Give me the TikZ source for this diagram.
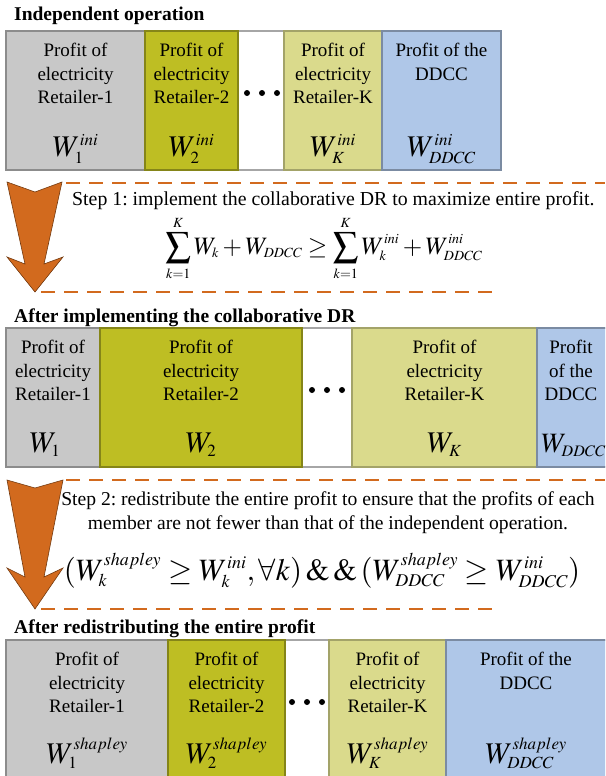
\documentclass[tikz,border=0pt]{standalone}
\usepackage{mathptmx}
\usepackage{fontspec}
\setmainfont{Liberation Serif}
\DeclareMathSizes{28}{28}{16}{11}
\DeclareMathSizes{30}{30}{17}{12}
\DeclareMathSizes{31}{31}{18}{12}
\DeclareMathSizes{25}{25}{14}{10}
\definecolor{retgray}{RGB}{200,200,200}
\definecolor{retolive}{RGB}{190,190,35}
\definecolor{retlight}{RGB}{218,218,140}
\definecolor{ddccblue}{RGB}{175,199,232}
\definecolor{steporange}{RGB}{210,106,30}
\frenchspacing

\begin{document}
\begin{tikzpicture}[x=1pt,y=-1pt,
  every node/.style={inner sep=0pt,font=\fontsize{19}{23.5}\selectfont},
  frame/.style={draw=black!35,line width=2.5pt},
  cell/.style={line width=1.8pt},
  txt/.style={align=center,anchor=north},
  steptxt/.style={font=\fontsize{19.8}{24}\selectfont},
  wlab/.style={anchor=base,font=\fontsize{30}{30}\selectfont},
  title/.style={anchor=base west,font=\fontsize{19.5}{22}\selectfont\bfseries},
  stepline/.style={draw=steporange,line width=2.8pt,dash pattern=on 14pt off 9pt},
  bigarrow/.style={fill=steporange,draw=black!45!steporange,line width=0.6pt}]
  \clip (0,0) rectangle (605,776);

  % independent operation
  \node[title] (t-ind) at (14,21) {Independent operation};
  \draw[frame] (6,31) rectangle (501,170);
  \draw[cell,fill=retgray,draw=retgray!70!black] (6,31) rectangle (145,170);
  \draw[cell,fill=retolive,draw=retolive!70!black] (145,31) rectangle (238,170);
  \draw[cell,fill=retlight,draw=retlight!75!black] (284,31) rectangle (382,170);
  \draw[cell,fill=ddccblue,draw=ddccblue!70!black] (382,31) rectangle (501,170);
  \node[txt] (ind-1) at (75.5,43) {Profit of\\electricity\\Retailer-1};
  \node[txt] (ind-2) at (191.5,43) {Profit of\\electricity\\Retailer-2};
  \node[txt] (ind-k) at (333,43) {Profit of\\electricity\\Retailer-K};
  \node[txt] (ind-d) at (441.5,43) {Profit of the\\DDCC};
  \node[wlab] (w-ind-1) at (75.5,156) {$W_{1}^{ini}$};
  \node[wlab] (w-ind-2) at (191.5,156) {$W_{2}^{ini}$};
  \node[wlab] (w-ind-k) at (333,156) {$W_{K}^{ini}$};
  \node[wlab] (w-ind-d) at (441.5,156) {$W_{DDCC}^{ini}$};
  \foreach \x in {247,262,277} \fill (\x,93) circle (3);

  % step 1
  \draw[bigarrow] (7,182) -- (35,192) -- (62,182) -- (44,264) -- (63,257)
    -- (35,292) -- (7,257) -- (25,264) -- cycle;
  \draw[stepline] (66,183) -- (605,183);
  \draw[stepline] (41,292) -- (495,292);
  \node[steptxt,anchor=base west] (step-1) at (72,205)
    {Step 1: implement the collaborative DR to maximize entire profit.};
  \node[anchor=base,font=\fontsize{25}{25}\selectfont] (eq-1) at (324,254)
    {$\displaystyle\sum_{k=1}^{K} W_{k} + W_{DDCC} \geq \sum_{k=1}^{K} W_{k}^{ini} + W_{DDCC}^{ini}$};

  % after the collaborative DR
  \node[title] (t-dr) at (14,322) {After implementing the collaborative DR};
  \draw[frame] (6,328) rectangle (607,467);
  \draw[cell,fill=retgray,draw=retgray!70!black] (6,328) rectangle (100,467);
  \draw[cell,fill=retolive,draw=retolive!70!black] (100,328) rectangle (302,467);
  \draw[cell,fill=retlight,draw=retlight!75!black] (352,328) rectangle (537,467);
  \draw[cell,fill=ddccblue,draw=ddccblue!70!black] (537,328) rectangle (607,467);
  \node[txt] (dr-1) at (53,340) {Profit of\\electricity\\Retailer-1};
  \node[txt] (dr-2) at (201,340) {Profit of\\electricity\\Retailer-2};
  \node[txt] (dr-k) at (444.5,340) {Profit of\\electricity\\Retailer-K};
  \node[txt] (dr-d) at (571,340) {Profit\\of the\\DDCC};
  \node[wlab] (w-dr-1) at (45,452) {$W_{1}$};
  \node[wlab] (w-dr-2) at (201,452) {$W_{2}$};
  \node[wlab] (w-dr-k) at (444.5,452) {$W_{K}$};
  \node[wlab,anchor=base west,font=\fontsize{28}{28}\selectfont] (w-dr-d) at (541,452) {$W_{DDCC}$};
  \foreach \x in {312,327,342} \fill (\x,390) circle (3);

  % step 2
  \draw[bigarrow] (7,480) -- (35,488) -- (63,480) -- (44,577) -- (63,568)
    -- (35,609) -- (7,568) -- (25,577) -- cycle;
  \draw[stepline] (66,480) -- (605,480);
  \draw[stepline] (41,609) -- (495,609);
  \node[txt,font=\fontsize{19.6}{24}\selectfont] (step-2) at (328,491)
    {Step 2: redistribute the entire profit to ensure that the profits of each\\
     member are not fewer than that of the independent operation.};
  \node[anchor=base,font=\fontsize{31}{31}\selectfont] (eq-2) at (322,580)
    {$(W_{k}^{shapley} \geq W_{k}^{ini}, \forall k)\,\&\,\&\,(W_{DDCC}^{shapley} \geq W_{DDCC}^{ini})$};

  % after redistributing
  \node[title] (t-re) at (14,633) {After redistributing the entire profit};
  \draw[frame] (6,640) rectangle (607,779);
  \draw[cell,fill=retgray,draw=retgray!70!black] (6,640) rectangle (168,779);
  \draw[cell,fill=retolive,draw=retolive!70!black] (168,640) rectangle (285,779);
  \draw[cell,fill=retlight,draw=retlight!75!black] (329,640) rectangle (446,779);
  \draw[cell,fill=ddccblue,draw=ddccblue!70!black] (446,640) rectangle (607,779);
  \node[txt] (re-1) at (87,652) {Profit of\\electricity\\Retailer-1};
  \node[txt] (re-2) at (226.5,652) {Profit of\\electricity\\Retailer-2};
  \node[txt] (re-k) at (387.5,652) {Profit of\\electricity\\Retailer-K};
  \node[txt] (re-d) at (526,652) {Profit of the\\DDCC};
  \node[wlab] (w-re-1) at (87,763) {$W_{1}^{shapley}$};
  \node[wlab] (w-re-2) at (226.5,763) {$W_{2}^{shapley}$};
  \node[wlab] (w-re-k) at (387.5,763) {$W_{K}^{shapley}$};
  \node[wlab] (w-re-d) at (526,763) {$W_{DDCC}^{shapley}$};
  \foreach \x in {292,307,322} \fill (\x,702) circle (3);
\end{tikzpicture}
\end{document}
